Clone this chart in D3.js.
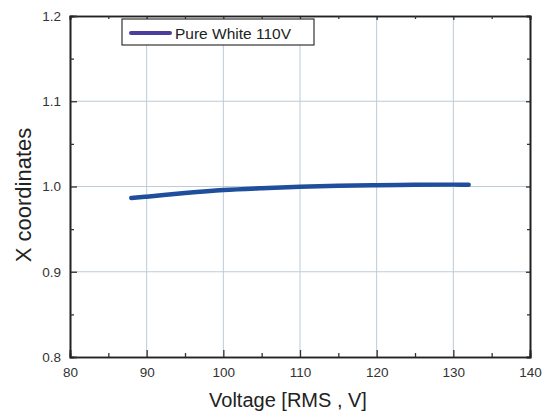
<!DOCTYPE html>
<html><head><meta charset="utf-8">
<script src="https://cdn.jsdelivr.net/npm/d3@7"></script>
<style>body{margin:0;background:#fff}svg{display:block}</style>
</head><body>
<svg id="c" width="543" height="418"></svg>
<script>
const voltage = [88, 90, 95, 100, 105, 110, 115, 120, 125, 130, 132];
const xCoord = [0.9865, 0.9881, 0.9923, 0.9958, 0.9980, 0.9996, 1.0008, 1.0015, 1.0020, 1.0022, 1.0022];
const xTicks = [80, 90, 100, 110, 120, 130, 140];
const yTicks = [0.8, 0.9, 1.0, 1.1, 1.2];
const seriesName = "Pure White 110V";

const svg = d3.select("#c");
const L = 70, R = 530, T = 16, B = 357;
const x = d3.scaleLinear().domain([80, 140]).range([L, R]);
const y = d3.scaleLinear().domain([0.8, 1.2]).range([B, T]);
const font = "Liberation Sans, Arial, sans-serif";

// grid
const g = svg.append("g");
g.selectAll(".vg").data(xTicks.slice(1, -1)).enter().append("line")
  .attr("x1", d => x(d)).attr("x2", d => x(d)).attr("y1", T).attr("y2", B)
  .attr("stroke", "#bccbd6").attr("stroke-width", 1);
g.selectAll(".hg").data(yTicks.slice(1, -1)).enter().append("line")
  .attr("y1", d => y(d)).attr("y2", d => y(d)).attr("x1", L).attr("x2", R)
  .attr("stroke", "#bccbd6").attr("stroke-width", 1);

// line
svg.append("path").datum(voltage.map((v, i) => [v, xCoord[i]]))
  .attr("d", d3.line().x(d => x(d[0])).y(d => y(d[1])).curve(d3.curveMonotoneX))
  .attr("fill", "none").attr("stroke", "#1f4f9c").attr("stroke-width", 4.5)
  .attr("stroke-linecap", "round");

// axes with inward ticks
const xMinor = d3.range(85, 140, 10);
const yMinor = [0.85, 0.95, 1.05, 1.15];
function axis(gen, tr) {
  const a = svg.append("g").attr("transform", tr).call(gen);
  a.select(".domain").attr("stroke", "#222").attr("stroke-width", 1.6);
  a.selectAll(".tick line").attr("stroke", "#333").attr("stroke-width", 1.3);
  a.selectAll("text").attr("font-family", font).attr("font-size", 13.5).attr("fill", "#333");
  return a;
}
axis(d3.axisBottom(x).tickValues(xTicks).tickSize(-7).tickPadding(10).tickFormat(d3.format("d")), `translate(0,${B})`);
axis(d3.axisBottom(x).tickValues(xMinor).tickSize(-4).tickFormat(""), `translate(0,${B})`);
axis(d3.axisTop(x).tickValues(xTicks).tickSize(-4).tickFormat(""), `translate(0,${T})`);
axis(d3.axisTop(x).tickValues(xMinor).tickSize(-3).tickFormat(""), `translate(0,${T})`);
axis(d3.axisLeft(y).tickValues(yTicks).tickSize(-7).tickPadding(9).tickFormat(d3.format(".1f")), `translate(${L},0)`);
axis(d3.axisLeft(y).tickValues(yMinor).tickSize(-4).tickFormat(""), `translate(${L},0)`);
axis(d3.axisRight(y).tickValues(yTicks).tickSize(-4).tickFormat(""), `translate(${R},0)`);
axis(d3.axisRight(y).tickValues(yMinor).tickSize(-3).tickFormat(""), `translate(${R},0)`);

// titles
svg.append("text").attr("x", 288).attr("y", 407).attr("text-anchor", "middle")
  .attr("font-family", font).attr("font-size", 20).attr("fill", "#222").text("Voltage [RMS , V]");
svg.append("text").attr("transform", `translate(31,195) rotate(-90)`).attr("text-anchor", "middle")
  .attr("font-family", font).attr("font-size", 22).attr("fill", "#222").text("X coordinates");

// legend
const lg = svg.append("g");
lg.append("rect").attr("x", 122).attr("y", 19).attr("width", 192).attr("height", 26)
  .attr("fill", "#fff").attr("stroke", "#333").attr("stroke-width", 1.2);
lg.append("line").attr("x1", 131).attr("x2", 170).attr("y1", 33).attr("y2", 33)
  .attr("stroke", "#4b3f9e").attr("stroke-width", 4).attr("stroke-linecap", "round");
lg.append("text").attr("x", 175).attr("y", 38.5).attr("font-family", font).attr("font-size", 15.5)
  .attr("fill", "#222").text(seriesName);
</script>
</body></html>
